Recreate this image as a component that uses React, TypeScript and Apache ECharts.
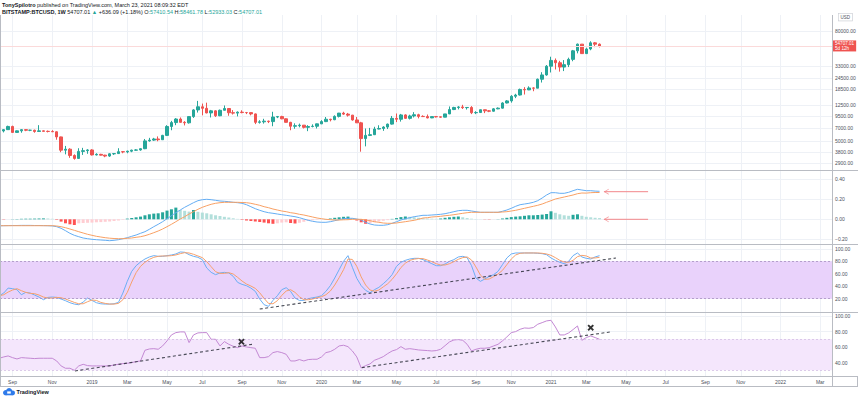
import React, { useEffect, useRef } from 'react';
import * as echarts from 'echarts';

// ---------- data (weekly bars, BITSTAMP:BTCUSD 1W) ----------
const firstWeekStart = '2018-08-06';

const opens = [7030, 6310, 6480, 6700, 7260, 6250, 6500, 6700, 6600, 6600, 6400, 6500, 6420, 6400, 6350, 5580, 4000, 4100, 3500, 3250, 3880, 3950, 4020, 3550, 3600, 3530, 3450, 3650, 3670, 3850, 3830, 3900, 4000, 4020, 4150, 5050, 5150, 5300, 5200, 5800, 7250, 8000, 8750, 8050, 7950, 9300, 11000, 11900, 11450, 10200, 10750, 9500, 10900, 11400, 10250, 10150, 10400, 10300, 10280, 9950, 8050, 8150, 8300, 8200, 9200, 9300, 8800, 8050, 7300, 7400, 7500, 7100, 7250, 7300, 7750, 8200, 8700, 8600, 9350, 10150, 9900, 9650, 8550, 7950, 5350, 5800, 5900, 6800, 6900, 7150, 7700, 8900, 8700, 9700, 8900, 9450, 9750, 9350, 9300, 9000, 9300, 9250, 9170, 9950, 11100, 11700, 11850, 11650, 11700, 10250, 10300, 11050, 10750, 10650, 11300, 11500, 13100, 13800, 15500, 16000, 18400, 18200, 19100, 19000, 23800, 26500, 33000, 38200, 36000, 32300, 34300, 39200, 48600, 57500, 45300, 50900, 59400, 57410.54];
const highs = [7150, 6620, 6800, 7400, 7400, 6560, 6800, 6750, 6680, 6700, 7500, 6560, 6550, 6600, 6420, 5620, 4450, 4200, 3600, 4200, 4240, 4100, 4100, 3700, 3650, 3560, 3700, 3700, 4200, 3900, 3950, 4050, 4100, 4200, 5300, 5450, 5450, 5650, 5880, 7500, 8350, 8950, 9100, 8300, 9350, 11200, 13800, 12900, 13200, 11000, 10900, 11100, 12300, 11500, 10950, 10600, 10900, 10450, 10300, 10050, 8500, 8800, 8400, 10500, 9450, 9500, 8900, 8150, 7850, 7800, 7500, 7500, 7650, 7800, 8500, 9200, 8800, 9600, 10200, 10500, 10200, 9700, 9200, 8150, 6900, 7000, 7200, 7480, 7300, 7800, 9450, 10050, 9950, 9850, 9750, 10400, 9990, 9600, 9800, 9300, 9450, 9300, 9950, 12000, 11900, 12100, 12500, 11800, 12100, 10650, 11100, 11050, 10950, 11500, 11700, 13350, 14100, 15950, 16500, 18800, 19500, 19900, 19400, 24200, 28400, 34000, 41900, 40100, 37800, 38500, 40900, 49700, 58300, 57600, 52600, 61800, 60700, 58461.78];
const lows = [6140, 5880, 6250, 6650, 6300, 6180, 6200, 6450, 6450, 6200, 6380, 6400, 6250, 6300, 5200, 3800, 3600, 3300, 3150, 3220, 3550, 3650, 3500, 3500, 3500, 3350, 3380, 3550, 3650, 3700, 3700, 3800, 3950, 3950, 4100, 4950, 5050, 5000, 5200, 5700, 6600, 7500, 8000, 7450, 7800, 9000, 10300, 9600, 10100, 9100, 9200, 9400, 10900, 9500, 9800, 9350, 10100, 9900, 9600, 7700, 7800, 7800, 7900, 7300, 8950, 8700, 8000, 6600, 6850, 7100, 6900, 6450, 7100, 6900, 7700, 8100, 8250, 8500, 9100, 9700, 9300, 8400, 8000, 3850, 4400, 5700, 5850, 6750, 6500, 6800, 7600, 8100, 8200, 8800, 8650, 9100, 8900, 9200, 8900, 8950, 9100, 9050, 9150, 9900, 10950, 11150, 11250, 11100, 9900, 9900, 10250, 10150, 10400, 10550, 11200, 11400, 12950, 13200, 14800, 15800, 16200, 18100, 17600, 19000, 21900, 26000, 28200, 30400, 28800, 29200, 32300, 37400, 45600, 44900, 44900, 49300, 53300, 52933.03];
const closes = [6310, 6480, 6700, 7260, 6250, 6500, 6700, 6600, 6600, 6400, 6500, 6420, 6400, 6350, 5580, 4000, 4100, 3500, 3250, 3880, 3950, 4020, 3550, 3600, 3530, 3450, 3650, 3670, 3850, 3830, 3900, 4000, 4020, 4150, 5050, 5150, 5300, 5200, 5800, 7250, 8000, 8750, 8050, 7950, 9300, 11000, 11900, 11450, 10200, 10750, 9500, 10900, 11400, 10250, 10150, 10400, 10300, 10280, 9950, 8050, 8150, 8300, 8200, 9200, 9300, 8800, 8050, 7300, 7400, 7500, 7100, 7250, 7300, 7750, 8200, 8700, 8600, 9350, 10150, 9900, 9650, 8550, 7950, 5350, 5800, 5900, 6800, 6900, 7150, 7700, 8900, 8700, 9700, 8900, 9450, 9750, 9350, 9300, 9000, 9300, 9250, 9170, 9950, 11100, 11700, 11850, 11650, 11700, 10250, 10300, 11050, 10750, 10650, 11300, 11500, 13100, 13800, 15500, 16000, 18400, 18200, 19100, 19000, 23800, 26500, 33000, 38200, 36000, 32300, 34300, 39200, 48600, 57500, 45300, 50900, 59400, 57410.54, 54707.01];

const macdLine = [-0.066, -0.065, -0.064, -0.063, -0.062, -0.062, -0.061, -0.061, -0.061, -0.062, -0.062, -0.063, -0.064, -0.066,
  -0.074, -0.090, -0.114, -0.140, -0.160, -0.174, -0.187, -0.194, -0.200, -0.204,
  -0.207, -0.210, -0.214, -0.210, -0.204, -0.194, -0.184, -0.170, -0.157, -0.140,
  -0.124, -0.100, -0.074, -0.050, -0.024, 0.006, 0.036, 0.066, 0.093, 0.120,
  0.143, 0.166, 0.186, 0.196, 0.200, 0.196, 0.190, 0.183, 0.180, 0.176,
  0.170, 0.166, 0.160, 0.146, 0.126, 0.106, 0.090, 0.076, 0.066, 0.060,
  0.053, 0.046, 0.040, 0.033, 0.026, 0.016, 0.003, -0.010, -0.020, -0.027,
  -0.030, -0.030, -0.024, -0.014, -0.004, 0.006, 0.010, 0.010, 0.003, -0.007,
  -0.030, -0.047, -0.057, -0.060, -0.060, -0.054, -0.040, -0.024, -0.007, 0.006,
  0.016, 0.026, 0.033,
  0.040, 0.040, 0.043, 0.046, 0.050, 0.056, 0.066, 0.076, 0.086, 0.090,
  0.090, 0.083, 0.076, 0.070, 0.070, 0.070, 0.070, 0.070, 0.080, 0.093,
  0.110, 0.130, 0.146, 0.153, 0.160, 0.170, 0.186, 0.213, 0.243, 0.266,
  0.266, 0.260, 0.260, 0.270, 0.286, 0.300, 0.293, 0.286, 0.286, 0.282,
  0.280];
const signalLine = [-0.064, -0.064, -0.064, -0.064, -0.064, -0.064, -0.064, -0.064, -0.064, -0.064, -0.064, -0.064, -0.064, -0.064,
  -0.067, -0.074, -0.084, -0.097, -0.110, -0.124, -0.137, -0.150, -0.160, -0.170,
  -0.177, -0.184, -0.189, -0.192, -0.194, -0.194, -0.190, -0.187, -0.180, -0.174,
  -0.164, -0.150, -0.134, -0.117, -0.097, -0.074, -0.050, -0.024, 0.003, 0.026,
  0.053, 0.076, 0.100, 0.120, 0.136, 0.150, 0.160, 0.166, 0.170, 0.170,
  0.170, 0.170, 0.168, 0.166, 0.160, 0.150, 0.140, 0.126, 0.116, 0.103,
  0.093, 0.083, 0.076, 0.066, 0.060, 0.050, 0.043, 0.033, 0.023, 0.013,
  0.006, 0.000, -0.004, -0.007, -0.007, -0.005, -0.004, 0.000, 0.000, 0.000,
  -0.007, -0.014, -0.024, -0.030, -0.037, -0.040, -0.040, -0.037, -0.030, -0.024,
  -0.017, -0.010, 0.000,
  0.013, 0.016, 0.023, 0.026, 0.030, 0.036, 0.040, 0.046, 0.053, 0.060,
  0.066, 0.070, 0.070, 0.070, 0.070, 0.070, 0.070, 0.070, 0.073, 0.076,
  0.083, 0.090, 0.100, 0.110, 0.120, 0.130, 0.140, 0.153, 0.170, 0.186,
  0.203, 0.213, 0.223, 0.233, 0.243, 0.256, 0.263, 0.262, 0.266, 0.268,
  0.268];
const macdHist = [-0.002, -0.002, -0.003, 0.000, 0.002, 0.003, 0.005, 0.006, 0.006, 0.007, 0.008, 0.009, 0.008, 0.005,
  -0.005, -0.023, -0.040, -0.050, -0.057, -0.040, -0.037, -0.035, -0.033, -0.030,
  -0.028, -0.025, -0.022, -0.017, -0.012, -0.005, 0.007, 0.013, 0.020, 0.027,
  0.040, 0.050, 0.057, 0.060, 0.070, 0.087, 0.100, 0.117, 0.093, 0.085,
  0.077, 0.093, 0.075, 0.067, 0.060, 0.050, 0.040, 0.033, 0.025, 0.018,
  0.010, 0.004, -0.005, -0.012, -0.017, -0.022, -0.027, -0.033, -0.040, -0.045,
  -0.040, -0.033, -0.030, -0.037, -0.042, -0.035, -0.025, -0.015, -0.010, -0.005,
  -0.002, 0.002, 0.008, 0.015, 0.020, 0.025,
  0.027, 0.012, -0.012, -0.030, -0.045, -0.040, -0.030, -0.022, -0.015, -0.008,
  0.004, 0.012, 0.022, 0.028, 0.025, 0.020, 0.015,
  0.010, 0.007, 0.006, 0.005, 0.008, 0.015, 0.020, 0.025, 0.028, 0.020,
  0.012, 0.006, 0.003, 0.001, -0.002, -0.003, -0.001, 0.002, 0.008, 0.015,
  0.022, 0.027, 0.030, 0.035, 0.040, 0.040, 0.043, 0.047, 0.053, 0.080,
  0.065, 0.050, 0.040, 0.035, 0.045, 0.050, 0.035, 0.025, 0.020, 0.015,
  0.012];

const stochK = [24.8, 24.8, 29.1, 37.1, 36.1, 34.5, 26.4, 30.2, 29.1, 25.9,
  22.7, 18.4, 22.1, 22.7, 22.1, 19.5, 16.8, 13.6, 11.4, 10.4,
  14.6, 21.1, 17.3, 13.6, 11.9, 11.4, 11.4, 11.9, 14.1, 29.1,
  47.9, 63.9, 73.0, 78.9, 83.7, 87.0, 89.1, 88.0, 88.0, 89.1,
  90.2, 91.8, 95.0, 94.5, 90.7, 88.0, 86.4, 82.7, 69.3, 62.3,
  58.6, 61.3, 62.3, 61.3, 55.9, 46.2, 43.0, 40.9, 37.1, 31.8,
  19.5, 10.4, 7.7, 17.3, 24.8, 34.5, 37.7, 31.8, 21.1, 17.3,
  17.3, 20.0, 21.6, 22.7, 24.8, 31.8, 40.9, 53.2, 66.6, 80.0,
  89.1, 70.4, 52.7, 40.9, 33.4, 29.6, 34.5, 38.2, 44.1, 50.5,
  58.6, 72.0, 78.4, 81.6, 83.7, 84.8, 84.8,
  82.7, 79.5, 76.2,
  73.0, 73.0, 75.7, 80.0, 82.7, 87.0, 88.0, 85.9, 73.0, 53.2,
  47.9, 51.6, 55.9, 58.6, 63.9, 74.6, 85.4, 91.8, 93.4, 93.4,
  93.4, 93.4, 93.4, 92.9, 92.3, 90.7, 85.4, 81.6, 78.4, 76.2,
  80.0, 89.1, 93.4, 87.0, 84.8, 83.7, 87.0, 89.1];
const stochD = [24.8, 24.8, 26.4, 30.7, 33.9, 36.1, 32.9, 30.2, 28.6, 28.1,
  25.9, 22.7, 21.1, 21.1, 22.1, 21.6, 19.5, 16.8, 14.1, 11.9,
  11.9, 15.2, 17.9, 17.3, 14.1, 12.5, 11.4, 11.4, 12.5, 18.4,
  30.2, 46.8, 61.8, 72.0, 78.4, 83.2, 86.4, 88.0, 88.6, 88.6,
  89.1, 90.2, 92.3, 93.9, 93.4, 91.3, 88.6, 85.9, 79.5, 71.4,
  63.4, 60.7, 60.7, 61.8, 59.6, 54.3, 48.4, 43.6, 40.4, 36.6,
  29.6, 20.5, 12.5, 11.9, 16.8, 25.4, 32.3, 34.5, 30.2, 23.2,
  18.4, 18.4, 19.5, 21.6, 23.2, 26.4, 32.3, 42.0, 53.8, 66.6,
  83.7, 83.0, 72.0, 55.0, 42.0, 34.0, 32.0, 34.0, 39.0, 44.0,
  51.0, 60.0, 70.0, 77.0, 81.5, 83.5, 84.5,
  84.3, 82.1, 79.5,
  76.2, 74.1, 74.1, 76.2, 79.5, 83.2, 85.9, 87.0, 82.1, 70.9,
  58.0, 51.1, 51.6, 55.4, 59.6, 65.5, 74.6, 83.7, 90.2, 92.9,
  93.4, 93.4, 93.4, 93.4, 92.9, 91.8, 89.6, 85.9, 81.6, 78.9,
  78.4, 81.6, 87.5, 89.6, 88.6, 85.4, 85.4, 86.4];
const rsi = [45.5, 45.5, 47.2, 48.5, 46.3, 44.6, 46.3, 45.9, 45.5, 45.1,
  45.5, 45.5, 45.5, 45.5, 42.0, 35.6, 32.6, 32.6, 30.0, 35.6,
  37.7, 36.0, 35.6, 35.6, 35.6, 35.6, 35.6, 36.9, 37.7, 38.6,
  39.0, 39.9, 41.2, 42.0, 55.8, 57.5, 57.9, 57.1, 61.4, 67.9,
  75.6, 78.6, 79.5, 79.5, 65.7, 75.6, 78.2, 78.6, 78.6, 70.0,
  70.0, 61.4, 67.0, 63.5, 61.0, 59.2, 61.4, 60.1, 59.2, 58.4,
  46.3, 46.3, 47.6, 52.8, 54.1, 52.8, 50.6, 42.0, 42.0, 43.8,
  42.0, 43.8, 44.2, 44.2, 47.2, 52.8, 54.1, 57.1, 61.4, 62.3,
  60.5, 54.9, 47.2, 33.0, 36.0, 38.2, 42.9, 45.1, 47.6, 51.5,
  54.9, 56.7, 60.5, 57.1, 57.9, 57.1, 56.2,
  55.8, 55.4, 54.9,
  55.4, 57.1, 61.8, 66.6, 69.1, 69.6, 68.7, 63.5, 54.9, 57.1,
  58.4, 58.4, 59.2, 61.4, 63.5, 67.9, 73.0, 78.6, 79.9, 82.9,
  84.6, 84.2, 85.1, 89.4, 91.5, 93.7, 94.5, 85.9, 75.6, 75.6,
  78.2, 82.5, 87.2, 68.7, 72.2, 74.3, 72.2, 70.0];

const priceTicks = [80000, 33000, 24500, 18500, 12500, 9500, 7000, 5000, 3800, 2900];
const macdTicks = [-0.2, 0, 0.2, 0.4];
const stochTicks = [20, 40, 60, 80, 100];
const rsiTicks = [40, 60, 80, 100];
const monthTickDates = ['2018-09-03', '2018-11-05', '2019-01-07', '2019-03-04', '2019-05-06', '2019-07-01', '2019-09-02', '2019-11-04', '2020-01-06', '2020-03-02', '2020-05-04', '2020-07-06', '2020-09-07', '2020-11-02', '2021-01-04', '2021-03-01', '2021-05-03', '2021-07-05', '2021-09-06', '2021-11-01', '2022-01-03', '2022-03-07'];
const monthTickLabels = ['Sep', 'Nov', '2019', 'Mar', 'May', 'Jul', 'Sep', 'Nov', '2020', 'Mar', 'May', 'Jul', 'Sep', 'Nov', '2021', 'Mar', 'May', 'Jul', 'Sep', 'Nov', '2022', 'Mar'];

// drawings (dates + values in the panes' own units)
const arrowTipDates = ['2021-03-29', '2021-03-29'];
const arrowTailDates = ['2021-06-07', '2021-06-07'];
const arrowLevels = [0.276, 0.0];
const stochTrendDates = ['2019-09-30', '2021-04-17'];
const stochTrendValues = [3.5, 85.3];
const rsiTrend1Dates = ['2018-12-11', '2019-09-18'];
const rsiTrend1Values = [29.1, 63.5];
const rsiTrend2Dates = ['2020-03-10', '2021-04-11'];
const rsiTrend2Values = [33.4, 79.8];
const crossDates = ['2019-09-01', '2021-03-08'];
const crossValues = [66.9, 85.0];
const stochBand = [20, 80];
const rsiBand = [30, 70];
const countdownText = '5d 12h';

// ---------- chart ----------
const FONT = '"Liberation Sans", Arial, sans-serif';
const DAY = 86400000;
const toMs = (s: string) => Date.parse(s + 'T00:00:00Z');

function buildOption() {
  const t0 = toMs(firstWeekStart);
  const weekMs = opens.map((_, i) => t0 + i * 7 * DAY);
  const anchor = toMs('2019-01-07');
  const xMin = anchor - 145.9 * DAY;
  const xMax = anchor + 1173.7 * DAY;
  const monthMs = monthTickDates.map(toMs);
  const last = closes.length - 1;
  const labelColor = '#4c4f5a';
  const gridColor = '#eef1f6';

  const grids = [
    { left: 0, right: 28, top: 15, height: 155 },
    { left: 0, right: 28, top: 170, height: 74 },
    { left: 0, right: 28, top: 244, height: 68 },
    { left: 0, right: 28, top: 312, height: 64 },
  ];

  const mkX = (gi: number) => ({
    type: 'value', gridIndex: gi, min: xMin, max: xMax,
    axisLine: { show: false },
    axisTick: { show: false, customValues: monthMs },
    axisLabel: {
      show: gi === 3, customValues: monthMs, fontSize: 5, color: labelColor, margin: 3, fontFamily: FONT,
      formatter: (v: number) => { const k = monthMs.indexOf(v); return k >= 0 ? monthTickLabels[k] : ''; },
    },
    splitLine: { show: true, lineStyle: { color: gridColor, width: 1 } },
  });
  const mkY = (gi: number, min: number, max: number, ticks: number[], fmt: (v: number) => string) => ({
    type: 'value', gridIndex: gi, position: 'right', min, max,
    axisLine: { show: false },
    axisTick: { show: false, customValues: ticks },
    axisLabel: { customValues: ticks, formatter: fmt, fontSize: 5, color: labelColor, margin: 3, fontFamily: FONT },
    splitLine: { show: true, lineStyle: { color: gridColor, width: 1 } },
  });

  const fmt2 = (v: number) => (v < 0 ? '\u2212' + Math.abs(v).toFixed(2) : v.toFixed(2));
  const priceFmt = (v: number) => Math.pow(10, v).toFixed(2);

  const candleData = weekMs.map((t, i) => [t, Math.log10(opens[i]), Math.log10(closes[i]), Math.log10(lows[i]), Math.log10(highs[i])]);
  const histData = macdHist.map((v, i) => {
    const prev = i > 0 ? macdHist[i - 1] : v;
    const color = v >= 0 ? (v >= prev ? '#26a69a' : '#b2dfdb') : (v <= prev ? '#ff5252' : '#ffcdd2');
    return { value: [weekMs[i], v], itemStyle: { color } };
  });
  const pairs = (arr: number[]) => arr.map((v, i) => [weekMs[i], v]);
  const line = (xi: number, data: any[], color: string, width = 1, extra: any = {}) => ({
    type: 'line', xAxisIndex: xi, yAxisIndex: xi, data, showSymbol: false, symbol: 'none', silent: true,
    lineStyle: { color, width }, z: 3, ...extra,
  });
  const trend = (xi: number, dates: string[], vals: number[]) =>
    line(xi, dates.map((d, i) => [toMs(d), vals[i]]), '#2a2e39', 1.1, { lineStyle: { color: '#2a2e39', width: 1.1, type: [3, 2.5], opacity: 0.85 }, z: 6 });

  const series: any[] = [
    {
      type: 'candlestick', xAxisIndex: 0, yAxisIndex: 0, data: candleData, encode: { x: 0, y: [1, 2, 3, 4] },
      barWidth: 3, silent: true,
      itemStyle: { color: '#26a69a', color0: '#ef5350', borderColor: '#26a69a', borderColor0: '#ef5350', borderWidth: 1 },
      markLine: {
        symbol: 'none', silent: true, animation: false,
        lineStyle: { color: '#fbdada', width: 1, type: 'solid' },
        label: {
          show: true, position: 'end', distance: 1, color: '#fff', backgroundColor: '#ef5350',
          fontSize: 4.6, lineHeight: 5, padding: [0.5, 2, 0.5, 2], fontFamily: FONT,
          formatter: () => closes[last].toFixed(2) + '\n' + countdownText,
        },
        data: [{ yAxis: Math.log10(closes[last]) }],
      },
    },
    { type: 'bar', xAxisIndex: 1, yAxisIndex: 1, data: histData, barWidth: 3, silent: true, z: 2 },
    line(1, pairs(macdLine), '#64adf3'),
    line(1, pairs(signalLine), '#f8a064'),
  ];
  arrowLevels.forEach((lv, k) => {
    series.push(line(1, [[toMs(arrowTailDates[k]), lv], [toMs(arrowTipDates[k]), lv]], '#f2878a', 1));
  });
  series.push({
    type: 'scatter', xAxisIndex: 1, yAxisIndex: 1, silent: true, z: 5,
    data: arrowLevels.map((lv, k) => [toMs(arrowTipDates[k]), lv]),
    symbol: 'path://M7,0 L0,4 L7,8 L7,6.8 L2,4 L7,1.2 Z', symbolSize: [5, 6], symbolOffset: [2.3, 0],
    itemStyle: { color: '#f2878a' },
  });
  series.push(line(2, pairs(stochK), '#6aaef4', 1, {
    markArea: { silent: true, itemStyle: { color: '#e9d2fb' }, data: [[{ yAxis: stochBand[0] }, { yAxis: stochBand[1] }]] },
    markLine: { symbol: 'none', silent: true, label: { show: false }, lineStyle: { color: '#a78fc0', width: 0.8, type: [2, 2] }, data: [{ yAxis: stochBand[0] }, { yAxis: stochBand[1] }] },
  }));
  series.push(line(2, pairs(stochD), '#f6a06c'));
  series.push(trend(2, stochTrendDates, stochTrendValues));
  series.push(line(3, pairs(rsi), '#c388d3', 1, {
    markArea: { silent: true, itemStyle: { color: '#f4e6fc' }, data: [[{ yAxis: rsiBand[0] }, { yAxis: rsiBand[1] }]] },
    markLine: { symbol: 'none', silent: true, label: { show: false }, lineStyle: { color: '#d3bfe3', width: 0.8, type: [2, 2] }, data: [{ yAxis: rsiBand[0] }, { yAxis: rsiBand[1] }] },
  }));
  series.push(trend(3, rsiTrend1Dates, rsiTrend1Values));
  series.push(trend(3, rsiTrend2Dates, rsiTrend2Values));
  series.push({
    type: 'scatter', xAxisIndex: 3, yAxisIndex: 3, silent: true, z: 7,
    data: crossDates.map((d, i) => [toMs(d), crossValues[i]]),
    symbol: 'path://M0,2 L2,0 L5,3 L8,0 L10,2 L7,5 L10,8 L8,10 L5,7 L2,10 L0,8 L3,5 Z', symbolSize: 6.5,
    itemStyle: { color: '#000' },
  });

  const sep = '#b9bcc3';
  const hline = (y: number, x1 = 0, x2 = 858) => ({ type: 'line', silent: true, z: 100, shape: { x1, y1: y, x2, y2: y }, style: { stroke: sep, lineWidth: 1 } });
  const vline = (x: number, y1: number, y2: number) => ({ type: 'line', silent: true, z: 100, shape: { x1: x, y1, x2: x, y2 }, style: { stroke: sep, lineWidth: 1 } });

  const graphic: any[] = [
    hline(170.5), hline(244.5), hline(312.5), hline(376.5), hline(386.5),
    vline(0.5, 15, 386.5), vline(832.5, 15, 386.5), vline(857.5, 376.5, 386.5),
    {
      type: 'text', left: 2, top: 1.5, silent: true, z: 110,
      style: {
        text: '{b|TonySpilotro} published on TradingView.com, March 23, 2021 08:09:32 EDT',
        fontSize: 5.5, fontFamily: FONT, fill: '#131722',
        rich: { b: { fontWeight: 'bold', fontSize: 5.5, fontFamily: FONT, fill: '#131722' } },
      },
    },
    {
      type: 'text', left: 2, top: 9, silent: true, z: 110,
      style: {
        text: `{b|BITSTAMP:BTCUSD, 1W} ${closes[last].toFixed(2)} {t|\u25B2} +636.09 (+1.18%) O:{t|${opens[last].toFixed(2)}} H:{t|${highs[last].toFixed(2)}} L:{t|${lows[last].toFixed(2)}} C:{t|${closes[last].toFixed(2)}}`,
        fontSize: 5.5, fontFamily: FONT, fill: '#131722',
        rich: {
          b: { fontWeight: 'bold', fontSize: 5.5, fontFamily: FONT, fill: '#131722' },
          t: { fontSize: 5.5, fontFamily: FONT, fill: '#26a69a' },
        },
      },
    },
    {
      type: 'text', left: 838, top: 13, silent: true, z: 110,
      style: { text: 'USD', fontSize: 4.5, fontFamily: FONT, fill: '#4c4f5a', backgroundColor: '#fff', borderColor: '#c9ccd3', borderWidth: 0.6, padding: [1, 2] },
    },
    {
      type: 'group', left: 3, top: 388, silent: true,
      children: [
        { type: 'circle', shape: { cx: 3, cy: 4.5, r: 2.6 }, style: { fill: '#2f7bea' } },
        { type: 'circle', shape: { cx: 6.5, cy: 3, r: 3.2 }, style: { fill: '#2f7bea' } },
        { type: 'circle', shape: { cx: 10, cy: 4.7, r: 2.4 }, style: { fill: '#2f7bea' } },
        { type: 'rect', shape: { x: 3, y: 4.5, width: 7, height: 2.6 }, style: { fill: '#2f7bea' } },
        { type: 'rect', shape: { x: 4.6, y: 3.2, width: 3.6, height: 2.2 }, style: { fill: '#fff' } },
        { type: 'text', x: 14, y: 1, style: { text: 'TradingView', fontSize: 5.5, fontWeight: 'bold', fontFamily: FONT, fill: '#131722' } },
      ],
    },
  ];

  return {
    animation: false,
    backgroundColor: '#ffffff',
    grid: grids,
    xAxis: [0, 1, 2, 3].map(mkX),
    yAxis: [
      mkY(0, 3.3855, 5.0777, priceTicks.map((p) => Math.log10(p)), priceFmt),
      mkY(1, -0.247, 0.493, macdTicks, fmt2),
      mkY(2, -1.3, 107.8, stochTicks, fmt2),
      mkY(3, 22.6, 105.2, rsiTicks, fmt2),
    ],
    series,
    graphic,
  };
}

export default function App() {
  const ref = useRef<HTMLDivElement>(null);
  useEffect(() => {
    document.body.style.margin = '0';
    const chart = echarts.init(ref.current as HTMLDivElement, undefined, { renderer: 'svg' });
    chart.setOption(buildOption() as any);
    return () => chart.dispose();
  }, []);
  return <div ref={ref} style={{ width: 860, height: 399, background: '#fff' }} />;
}
